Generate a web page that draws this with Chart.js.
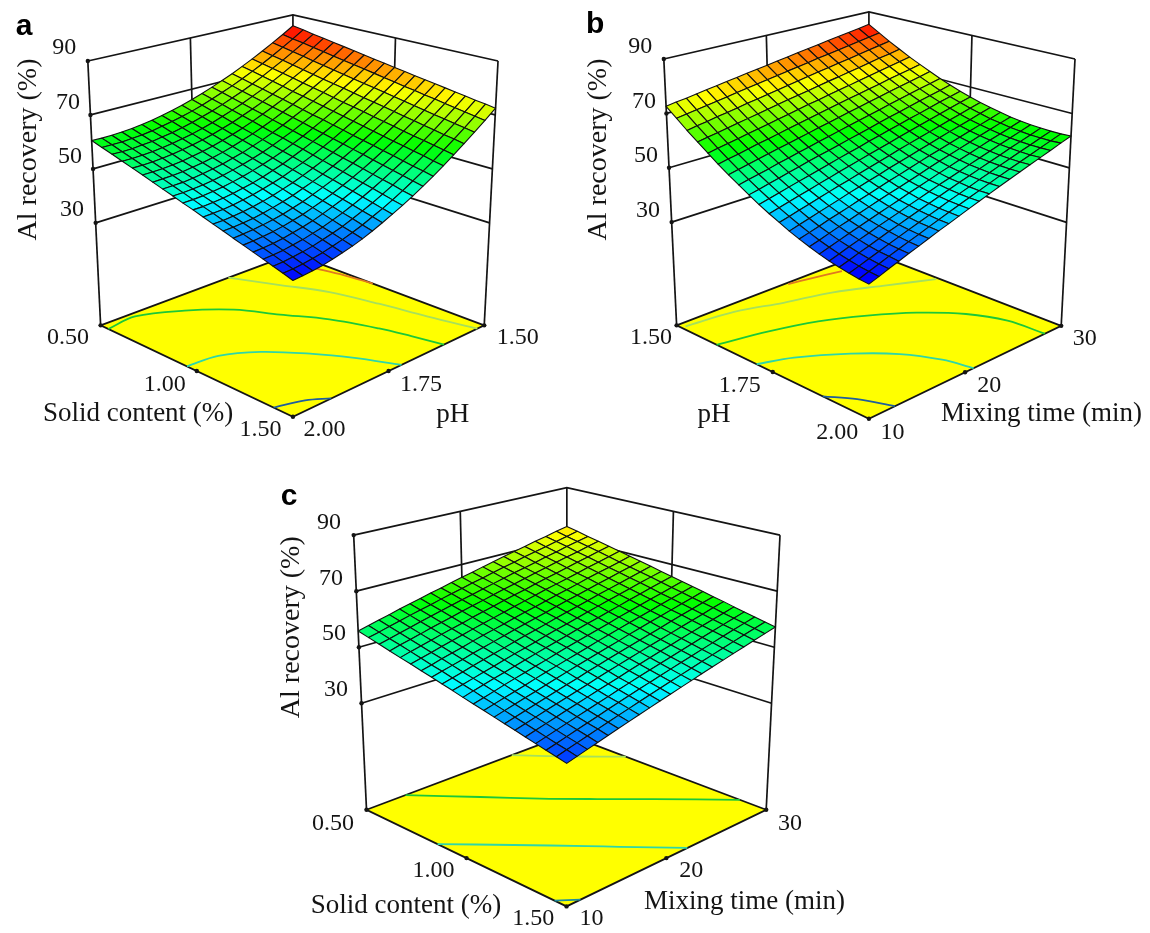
<!DOCTYPE html>
<html>
<head>
<meta charset="utf-8">
<title>Al recovery response surfaces</title>
<script src="https://cdn.jsdelivr.net/npm/chart.js@4.4.1/dist/chart.umd.js"></script>
<style>
  html, body { margin: 0; background: #fff; }
  canvas { position: absolute; }
</style>
</head>
<body>
<canvas id="panelA" width="575" height="462" style="left:0;top:0"></canvas>
<canvas id="panelB" width="575" height="462" style="left:575px;top:0"></canvas>
<canvas id="panelC" width="610" height="471" style="left:250px;top:462px"></canvas>
<script>
// tick labels
const zTicks = [90, 70, 50, 30];
const solidTicks = ['0.50', '1.00', '1.50'];
const phTicks = ['1.50', '1.75', '2.00'];
const timeTicks = ['30', '20', '10'];
const zTitle = 'Al recovery (%)';
const solidTitle = 'Solid content (%)';
const phTitle = 'pH';
const timeTitle = 'Mixing time (min)';
const zFloor = -8;
const zTop = 90;

// a: rows pH 1.50 -> 2.00, columns solid content 0.50 -> 1.50
const surfaceA = [
[85.5,84.8,84.0,83.3,82.6,81.9,81.2,80.5,79.8,79.2,78.5,77.9,77.2,76.6,76.0,75.4,74.8,74.2,73.6,73.1,72.5],
[82.9,82.1,81.4,80.6,79.9,79.1,78.4,77.7,77.0,76.3,75.6,74.9,74.2,73.6,72.9,72.3,71.6,71.0,70.4,69.8,69.2],
[80.5,79.7,78.9,78.1,77.3,76.5,75.7,75.0,74.2,73.5,72.8,72.1,71.4,70.7,70.0,69.3,68.6,68.0,67.3,66.7,66.1],
[78.2,77.3,76.5,75.7,74.8,74.0,73.2,72.4,71.7,70.9,70.1,69.4,68.7,67.9,67.2,66.5,65.8,65.1,64.4,63.8,63.1],
[76.0,75.1,74.3,73.4,72.6,71.7,70.9,70.1,69.2,68.4,67.7,66.9,66.1,65.3,64.6,63.8,63.1,62.4,61.7,61.0,60.3],
[74.0,73.1,72.2,71.3,70.4,69.5,68.7,67.8,67.0,66.1,65.3,64.5,63.7,62.9,62.1,61.3,60.6,59.8,59.1,58.3,57.6],
[72.1,71.2,70.2,69.3,68.4,67.5,66.6,65.7,64.8,64.0,63.1,62.3,61.4,60.6,59.8,59.0,58.2,57.4,56.6,55.9,55.1],
[70.4,69.4,68.4,67.5,66.5,65.6,64.7,63.8,62.9,62.0,61.1,60.2,59.4,58.5,57.7,56.8,56.0,55.2,54.4,53.6,52.8],
[68.8,67.8,66.8,65.8,64.8,63.9,62.9,62.0,61.0,60.1,59.2,58.3,57.4,56.5,55.7,54.8,53.9,53.1,52.3,51.4,50.6],
[67.3,66.3,65.3,64.3,63.3,62.3,61.3,60.3,59.4,58.4,57.5,56.5,55.6,54.7,53.8,52.9,52.0,51.2,50.3,49.4,48.6],
[66.0,64.9,63.9,62.9,61.8,60.8,59.8,58.8,57.8,56.8,55.9,54.9,54.0,53.0,52.1,51.2,50.3,49.4,48.5,47.6,46.8],
[64.8,63.7,62.7,61.6,60.6,59.5,58.5,57.5,56.4,55.4,54.4,53.5,52.5,51.5,50.6,49.6,48.7,47.8,46.9,46.0,45.1],
[63.8,62.7,61.6,60.5,59.4,58.3,57.3,56.2,55.2,54.2,53.2,52.1,51.1,50.2,49.2,48.2,47.3,46.3,45.4,44.4,43.5],
[62.9,61.8,60.6,59.5,58.4,57.3,56.2,55.2,54.1,53.1,52.0,51.0,50.0,48.9,47.9,47.0,46.0,45.0,44.0,43.1,42.1],
[62.1,61.0,59.8,58.7,57.6,56.4,55.3,54.2,53.2,52.1,51.0,50.0,48.9,47.9,46.9,45.8,44.8,43.8,42.9,41.9,40.9],
[61.5,60.3,59.2,58.0,56.9,55.7,54.6,53.5,52.4,51.3,50.2,49.1,48.0,47.0,45.9,44.9,43.9,42.9,41.9,40.9,39.9],
[61.0,59.8,58.6,57.5,56.3,55.1,54.0,52.9,51.7,50.6,49.5,48.4,47.3,46.2,45.2,44.1,43.1,42.0,41.0,40.0,39.0],
[60.7,59.5,58.3,57.1,55.9,54.7,53.5,52.4,51.2,50.1,49.0,47.8,46.7,45.6,44.6,43.5,42.4,41.4,40.3,39.3,38.2],
[60.5,59.2,58.0,56.8,55.6,54.4,53.2,52.0,50.9,49.7,48.6,47.4,46.3,45.2,44.1,43.0,41.9,40.8,39.8,38.7,37.7],
[60.4,59.2,57.9,56.7,55.5,54.3,53.1,51.9,50.7,49.5,48.3,47.2,46.0,44.9,43.8,42.7,41.6,40.5,39.4,38.3,37.3],
[60.5,59.2,58.0,56.7,55.5,54.3,53.0,51.8,50.6,49.4,48.3,47.1,45.9,44.8,43.6,42.5,41.4,40.3,39.2,38.1,37.0]
];

// b: rows pH 1.50 -> 2.00, columns mixing time 30 -> 10
const surfaceB = [
[84.9,84.2,83.6,82.9,82.3,81.6,81.0,80.4,79.7,79.1,78.5,77.9,77.3,76.7,76.1,75.5,74.9,74.3,73.7,73.2,72.6],
[82.4,81.7,81.0,80.3,79.6,78.9,78.3,77.6,76.9,76.3,75.6,75.0,74.3,73.7,73.1,72.4,71.8,71.2,70.6,70.0,69.4],
[80.0,79.3,78.6,77.8,77.1,76.4,75.7,75.0,74.3,73.6,72.9,72.2,71.5,70.8,70.2,69.5,68.8,68.2,67.5,66.9,66.2],
[77.8,77.0,76.3,75.5,74.7,74.0,73.2,72.5,71.8,71.0,70.3,69.6,68.9,68.1,67.4,66.7,66.0,65.3,64.6,64.0,63.3],
[75.7,74.9,74.1,73.3,72.5,71.7,70.9,70.2,69.4,68.6,67.9,67.1,66.3,65.6,64.8,64.1,63.4,62.6,61.9,61.2,60.5],
[73.8,72.9,72.1,71.3,70.4,69.6,68.8,68.0,67.2,66.4,65.6,64.8,64.0,63.2,62.4,61.6,60.9,60.1,59.3,58.6,57.8],
[72.0,71.1,70.2,69.4,68.5,67.6,66.8,65.9,65.1,64.2,63.4,62.6,61.7,60.9,60.1,59.3,58.5,57.7,56.9,56.1,55.3],
[70.3,69.4,68.5,67.6,66.7,65.8,64.9,64.0,63.1,62.3,61.4,60.5,59.7,58.8,58.0,57.1,56.3,55.4,54.6,53.8,53.0],
[68.8,67.8,66.9,66.0,65.0,64.1,63.2,62.3,61.3,60.4,59.5,58.6,57.7,56.9,56.0,55.1,54.2,53.3,52.5,51.6,50.8],
[67.4,66.4,65.5,64.5,63.5,62.6,61.6,60.7,59.7,58.8,57.8,56.9,56.0,55.0,54.1,53.2,52.3,51.4,50.5,49.6,48.7],
[66.2,65.2,64.2,63.2,62.2,61.2,60.2,59.2,58.2,57.2,56.3,55.3,54.3,53.4,52.4,51.5,50.5,49.6,48.7,47.7,46.8],
[65.1,64.1,63.0,62.0,60.9,59.9,58.9,57.9,56.9,55.8,54.8,53.8,52.8,51.8,50.9,49.9,48.9,47.9,47.0,46.0,45.1],
[64.2,63.1,62.0,60.9,59.9,58.8,57.7,56.7,55.6,54.6,53.6,52.5,51.5,50.5,49.5,48.4,47.4,46.4,45.4,44.4,43.4],
[63.4,62.2,61.1,60.0,58.9,57.8,56.7,55.7,54.6,53.5,52.4,51.4,50.3,49.2,48.2,47.1,46.1,45.1,44.0,43.0,42.0],
[62.7,61.6,60.4,59.3,58.1,57.0,55.9,54.8,53.7,52.5,51.4,50.3,49.3,48.2,47.1,46.0,44.9,43.9,42.8,41.7,40.7],
[62.2,61.0,59.8,58.7,57.5,56.3,55.2,54.0,52.9,51.7,50.6,49.5,48.3,47.2,46.1,45.0,43.9,42.8,41.7,40.6,39.5],
[61.8,60.6,59.4,58.2,57.0,55.8,54.6,53.4,52.2,51.1,49.9,48.7,47.6,46.4,45.3,44.2,43.0,41.9,40.8,39.6,38.5],
[61.6,60.3,59.1,57.9,56.6,55.4,54.2,53.0,51.8,50.6,49.4,48.2,47.0,45.8,44.6,43.5,42.3,41.1,40.0,38.8,37.7],
[61.5,60.2,58.9,57.7,56.4,55.2,53.9,52.7,51.4,50.2,49.0,47.7,46.5,45.3,44.1,42.9,41.7,40.5,39.3,38.1,37.0],
[61.5,60.2,58.9,57.6,56.3,55.1,53.8,52.5,51.2,50.0,48.7,47.5,46.2,45.0,43.7,42.5,41.3,40.1,38.8,37.6,36.4],
[61.7,60.4,59.0,57.7,56.4,55.1,53.8,52.5,51.2,49.9,48.6,47.3,46.0,44.8,43.5,42.2,41.0,39.7,38.5,37.2,36.0]
];

// c: rows solid content 0.50 -> 1.50, columns mixing time 30 -> 10
const surfaceC = [
[74.6,73.7,72.7,71.8,70.8,69.9,69.0,68.0,67.1,66.1,65.2,64.3,63.3,62.4,61.4,60.5,59.6,58.6,57.7,56.7,55.8],
[73.7,72.7,71.8,70.8,69.9,69.0,68.0,67.1,66.2,65.2,64.3,63.3,62.4,61.5,60.5,59.6,58.7,57.7,56.8,55.8,54.9],
[72.7,71.8,70.9,69.9,69.0,68.0,67.1,66.2,65.2,64.3,63.4,62.4,61.5,60.6,59.6,58.7,57.8,56.8,55.9,54.9,54.0],
[71.8,70.9,69.9,69.0,68.1,67.1,66.2,65.3,64.3,63.4,62.5,61.5,60.6,59.7,58.7,57.8,56.9,55.9,55.0,54.1,53.1],
[70.9,70.0,69.0,68.1,67.2,66.2,65.3,64.4,63.4,62.5,61.6,60.6,59.7,58.8,57.8,56.9,56.0,55.0,54.1,53.2,52.2],
[70.0,69.0,68.1,67.2,66.2,65.3,64.4,63.5,62.5,61.6,60.7,59.7,58.8,57.9,57.0,56.0,55.1,54.2,53.2,52.3,51.4],
[69.1,68.1,67.2,66.3,65.4,64.4,63.5,62.6,61.6,60.7,59.8,58.9,57.9,57.0,56.1,55.2,54.2,53.3,52.4,51.4,50.5],
[68.2,67.2,66.3,65.4,64.5,63.5,62.6,61.7,60.8,59.8,58.9,58.0,57.1,56.1,55.2,54.3,53.4,52.4,51.5,50.6,49.7],
[67.3,66.4,65.4,64.5,63.6,62.7,61.7,60.8,59.9,59.0,58.0,57.1,56.2,55.3,54.3,53.4,52.5,51.6,50.6,49.7,48.8],
[66.4,65.5,64.6,63.6,62.7,61.8,60.9,60.0,59.0,58.1,57.2,56.3,55.3,54.4,53.5,52.6,51.6,50.7,49.8,48.9,48.0],
[65.5,64.6,63.7,62.8,61.9,60.9,60.0,59.1,58.2,57.3,56.3,55.4,54.5,53.6,52.7,51.7,50.8,49.9,49.0,48.1,47.1],
[64.7,63.7,62.8,61.9,61.0,60.1,59.2,58.2,57.3,56.4,55.5,54.6,53.7,52.7,51.8,50.9,50.0,49.1,48.1,47.2,46.3],
[63.8,62.9,62.0,61.1,60.1,59.2,58.3,57.4,56.5,55.6,54.6,53.7,52.8,51.9,51.0,50.1,49.1,48.2,47.3,46.4,45.5],
[63.0,62.0,61.1,60.2,59.3,58.4,57.5,56.6,55.6,54.7,53.8,52.9,52.0,51.1,50.2,49.2,48.3,47.4,46.5,45.6,44.7],
[62.1,61.2,60.3,59.4,58.5,57.5,56.6,55.7,54.8,53.9,53.0,52.1,51.2,50.2,49.3,48.4,47.5,46.6,45.7,44.8,43.9],
[61.3,60.4,59.4,58.5,57.6,56.7,55.8,54.9,54.0,53.1,52.2,51.3,50.4,49.4,48.5,47.6,46.7,45.8,44.9,44.0,43.1],
[60.4,59.5,58.6,57.7,56.8,55.9,55.0,54.1,53.2,52.3,51.4,50.4,49.5,48.6,47.7,46.8,45.9,45.0,44.1,43.2,42.3],
[59.6,58.7,57.8,56.9,56.0,55.1,54.2,53.3,52.4,51.5,50.6,49.7,48.8,47.8,46.9,46.0,45.1,44.2,43.3,42.4,41.5],
[58.8,57.9,57.0,56.1,55.2,54.3,53.4,52.5,51.6,50.7,49.8,48.9,48.0,47.1,46.2,45.2,44.3,43.4,42.5,41.6,40.7],
[58.0,57.1,56.2,55.3,54.4,53.5,52.6,51.7,50.8,49.9,49.0,48.1,47.2,46.3,45.4,44.5,43.6,42.7,41.8,40.9,40.0],
[57.2,56.3,55.4,54.5,53.6,52.7,51.8,50.9,50.0,49.1,48.2,47.3,46.4,45.5,44.6,43.7,42.8,41.9,41.0,40.1,39.2]
];

// floor contours, [solid content, pH]
const contoursA = [
  [[0.60,1.53],[0.674,1.52],[0.785,1.508],[0.918,1.5]],
  [[0.5,1.668],[0.68,1.623],[0.856,1.582],[1.065,1.558],[1.284,1.539],[1.5,1.518]],
  [[0.54,2.0],[0.525,1.923],[0.606,1.835],[0.722,1.764],[0.87,1.718],[1.03,1.669],[1.22,1.635],[1.357,1.619],[1.5,1.605]],
  [[0.949,2.0],[0.964,1.926],[1.048,1.857],[1.195,1.795],[1.323,1.756],[1.5,1.716]],
  [[1.4,2.0],[1.442,1.939],[1.5,1.9]]
];
// floor contours, [pH, mixing time]
const contoursB = [
  [[1.505,21.4],[1.515,23.4],[1.53,26.0]],
  [[1.513,10.4],[1.527,15],[1.558,18.8],[1.587,22.8],[1.63,26.2],[1.68,29.8]],
  [[1.604,10],[1.627,14.5],[1.658,18.4],[1.703,21.7],[1.759,24.6],[1.83,26.9],[1.908,28.1],[2.0,28.3]],
  [[1.708,10],[1.735,12.8],[1.795,16.3],[1.86,18.8],[1.933,20.3],[2.0,20.9]],
  [[1.88,10],[1.932,11.5],[2.0,12.7]]
];
// floor contours, [solid content, mixing time]
const contoursC = [
  [[0.5,24.5],[0.594,26.2],[0.668,27.6],[0.796,30]],
  [[0.5,13.9],[0.684,17.7],[0.837,20.6],[0.983,23.4],[1.129,26.1],[1.368,30]],
  [[0.855,10],[1.04,13.9],[1.228,17.5],[1.315,19],[1.5,22.1]],
  [[1.44,10],[1.5,11.4]]
];

const contourColorsAB = ['#e07a20', '#a6e05c', '#1cc838', '#2fd6a8', '#1f5f9c'];
const contourColorsC = ['#a6e05c', '#1cc838', '#2fd6a8', '#1f8f9c'];

const INK = '#141414';
const SERIF = '"Liberation Serif", serif';

const panels = [
  {
    canvas: 'panelA', xr: [0, 575], yr: [0, 462], rowsToLeft: true,
    surface: surfaceA, contours: contoursA, contourColors: contourColorsAB,
    toPQ: ([s, ph]) => [s - 0.5, (ph - 1.5) / 0.5],
    floor: { B: [293, 254], R: [487, 327], L: [98, 327], F: [293, 420] },
    top: { B: [293, 11], R: [501, 58], L: [85, 58], F: [293, 118] },
    letter: ['a', 12, 32],
    texts: [
      [zTicks[0], 61, 44], [zTicks[1], 65, 100], [zTicks[2], 67, 155], [zTicks[3], 69, 209],
      [solidTicks[0], 65, 340], [solidTicks[1], 163, 387], [solidTicks[2], 260, 433],
      [phTicks[2], 325, 433], [phTicks[1], 423, 387], [phTicks[0], 521, 340]
    ],
    titles: [[solidTitle, 136, 417], [phTitle, 455, 418]],
    zTitleAt: [25, 148]
  },
  {
    canvas: 'panelB', xr: [575, 1150], yr: [0, 462], rowsToLeft: false,
    surface: surfaceB, contours: contoursB, contourColors: contourColorsAB,
    toPQ: ([ph, t]) => [(ph - 1.5) / 0.5, (30 - t) / 20],
    floor: { B: [869, 252], R: [1064, 327.5], L: [674, 327], F: [869, 422] },
    top: { B: [869, 8], R: [1078, 56], L: [661, 56], F: [869, 117] },
    letter: ['b', 582, 30],
    texts: [
      [zTicks[0], 637, 43], [zTicks[1], 641, 99], [zTicks[2], 643, 154], [zTicks[3], 645, 210],
      [phTicks[0], 648, 340], [phTicks[1], 738, 388], [phTicks[2], 837, 436],
      [timeTicks[2], 893, 436], [timeTicks[1], 991, 388], [timeTicks[0], 1088, 341]
    ],
    titles: [[phTitle, 712, 418], [timeTitle, 1044, 417]],
    zTitleAt: [595, 148]
  },
  {
    canvas: 'panelC', xr: [250, 860], yr: [462, 933], rowsToLeft: false,
    surface: surfaceC, contours: contoursC, contourColors: contourColorsC,
    toPQ: ([s, t]) => [s - 0.5, (30 - t) / 20],
    floor: { B: [567, 735], R: [769, 811.7], L: [364, 811.7], F: [566.7, 910] },
    top: { B: [567, 484], R: [783, 532.3], L: [351, 532.3], F: [567, 608] },
    letter: ['c', 277, 502],
    texts: [
      [zTicks[0], 326, 520], [zTicks[1], 328, 577], [zTicks[2], 331, 633], [zTicks[3], 333, 690],
      [solidTicks[0], 330, 826], [solidTicks[1], 432, 874], [solidTicks[2], 533, 923],
      [timeTicks[2], 592, 923], [timeTicks[1], 693, 874], [timeTicks[0], 793, 826]
    ],
    titles: [[solidTitle, 404, 910], [timeTitle, 747, 905]],
    zTitleAt: [288, 626]
  }
];

function lerp(a, b, t) { return a + (b - a) * t; }

// p runs back -> right, q runs back -> left, z is Al recovery
function project(panel, p, q, z) {
  const bilinear = (c, i) => lerp(lerp(c.B[i], c.R[i], p), lerp(c.L[i], c.F[i], p), q);
  const h = (z - zFloor) / (zTop - zFloor);
  return {
    x: lerp(bilinear(panel.floor, 0), bilinear(panel.top, 0), h),
    y: lerp(bilinear(panel.floor, 1), bilinear(panel.top, 1), h)
  };
}

// rainbow scale shared by all three surfaces
function surfaceColor(z) {
  const stops = [[0, 0, 255], [0, 255, 255], [0, 255, 0], [255, 255, 0], [255, 0, 0]];
  const t = Math.min(0.9999, Math.max(0, (z - 37) / 48)) * 4;
  const i = Math.floor(t);
  const c = stops[i].map((v, k) => Math.round(lerp(v, stops[i + 1][k], t - i)));
  return `rgb(${c[0]},${c[1]},${c[2]})`;
}

function lineSet(data, color, width, extra) {
  return Object.assign({
    data: data, showLine: true, pointRadius: 0, tension: 0,
    borderColor: color, borderWidth: width, fill: false, clip: false
  }, extra || {});
}

function buildDatasets(panel) {
  const sets = [];
  const P = (p, q, z) => project(panel, p, q, z);

  // floor
  sets.push(lineSet([P(0, 0, zFloor), P(1, 0, zFloor), P(1, 1, zFloor), P(0, 1, zFloor), P(0, 0, zFloor)],
    INK, 1.8, { fill: 'shape', backgroundColor: '#ffff00' }));
  panel.contours.forEach((c, i) => {
    const pts = c.map(v => { const [p, q] = panel.toPQ(v); return P(p, q, zFloor); });
    sets.push(lineSet(pts, panel.contourColors[i], 1.8, { tension: 0.35 }));
  });

  // walls; the middle posts stop behind the surface
  sets.push(lineSet([P(0, 1, zFloor), P(0, 1, zTop)], INK, 1.7));
  sets.push(lineSet([P(1, 0, zFloor), P(1, 0, zTop)], INK, 1.7));
  sets.push(lineSet([P(0, 0, zFloor), P(0, 0, zTop)], INK, 1.7));
  sets.push(lineSet([P(0, 0.5, 30), P(0, 0.5, zTop)], INK, 1.7));
  sets.push(lineSet([P(0.5, 0, 30), P(0.5, 0, zTop)], INK, 1.7));
  zTicks.forEach(z => {
    sets.push(lineSet([P(0, 1, z), P(0, 0, z), P(1, 0, z)], INK, 1.7));
  });

  // tick dots
  const dots = zTicks.map(z => P(0, 1, z)).concat([
    P(0, 1, zFloor), P(1, 1, zFloor), P(1, 0, zFloor), P(0.5, 1, zFloor), P(1, 0.5, zFloor)
  ]);
  sets.push({ data: dots, showLine: false, pointRadius: 2.2, pointBackgroundColor: INK, pointBorderWidth: 0, clip: false });

  // surface, back to front
  const s = panel.surface;
  const n = s.length - 1;
  for (let r = 0; r < n; r++) {
    for (let c = 0; c < n; c++) {
      const corner = (rr, cc) => panel.rowsToLeft
        ? P(cc / n, rr / n, s[rr][cc]) : P(rr / n, cc / n, s[rr][cc]);
      const mean = (s[r][c] + s[r + 1][c] + s[r][c + 1] + s[r + 1][c + 1]) / 4;
      sets.push(lineSet(
        [corner(r, c), corner(r + 1, c), corner(r + 1, c + 1), corner(r, c + 1), corner(r, c)],
        '#101010', 1.1, { fill: 'shape', backgroundColor: surfaceColor(mean), borderJoinStyle: 'round' }
      ));
    }
  }
  // first dataset is painted last
  return sets.reverse();
}

const panelText = {
  id: 'panelText',
  afterDatasetsDraw(chart, args, opts) {
    const panel = opts.panel;
    const { ctx, scales } = chart;
    const X = v => scales.x.getPixelForValue(v);
    const Y = v => scales.y.getPixelForValue(v);
    ctx.save();
    ctx.fillStyle = INK;
    ctx.textAlign = 'center';
    ctx.textBaseline = 'middle';
    ctx.font = '24px ' + SERIF;
    panel.texts.forEach(([t, x, y]) => ctx.fillText(String(t), X(x), Y(y)));
    ctx.font = '27px ' + SERIF;
    panel.titles.forEach(([t, x, y]) => ctx.fillText(t, X(x), Y(y)));
    ctx.save();
    ctx.translate(X(panel.zTitleAt[0]), Y(panel.zTitleAt[1]));
    ctx.rotate(-Math.PI / 2);
    ctx.font = '28px ' + SERIF;
    ctx.fillText(zTitle, 0, 0);
    ctx.restore();
    ctx.textAlign = 'left';
    ctx.textBaseline = 'alphabetic';
    ctx.fillStyle = '#000';
    ctx.font = 'bold 30px "Liberation Sans", sans-serif';
    ctx.fillText(panel.letter[0], X(panel.letter[1]), Y(panel.letter[2]));
    ctx.restore();
  }
};

panels.forEach(panel => {
  new Chart(document.getElementById(panel.canvas).getContext('2d'), {
    type: 'scatter',
    data: { datasets: buildDatasets(panel) },
    options: {
      responsive: false,
      animation: false,
      events: [],
      layout: { padding: 0 },
      scales: {
        x: { type: 'linear', min: panel.xr[0], max: panel.xr[1], display: false },
        y: { type: 'linear', min: panel.yr[0], max: panel.yr[1], reverse: true, display: false }
      },
      plugins: {
        legend: { display: false },
        tooltip: { enabled: false },
        panelText: { panel: panel }
      }
    },
    plugins: [panelText]
  });
});
</script>
</body>
</html>
